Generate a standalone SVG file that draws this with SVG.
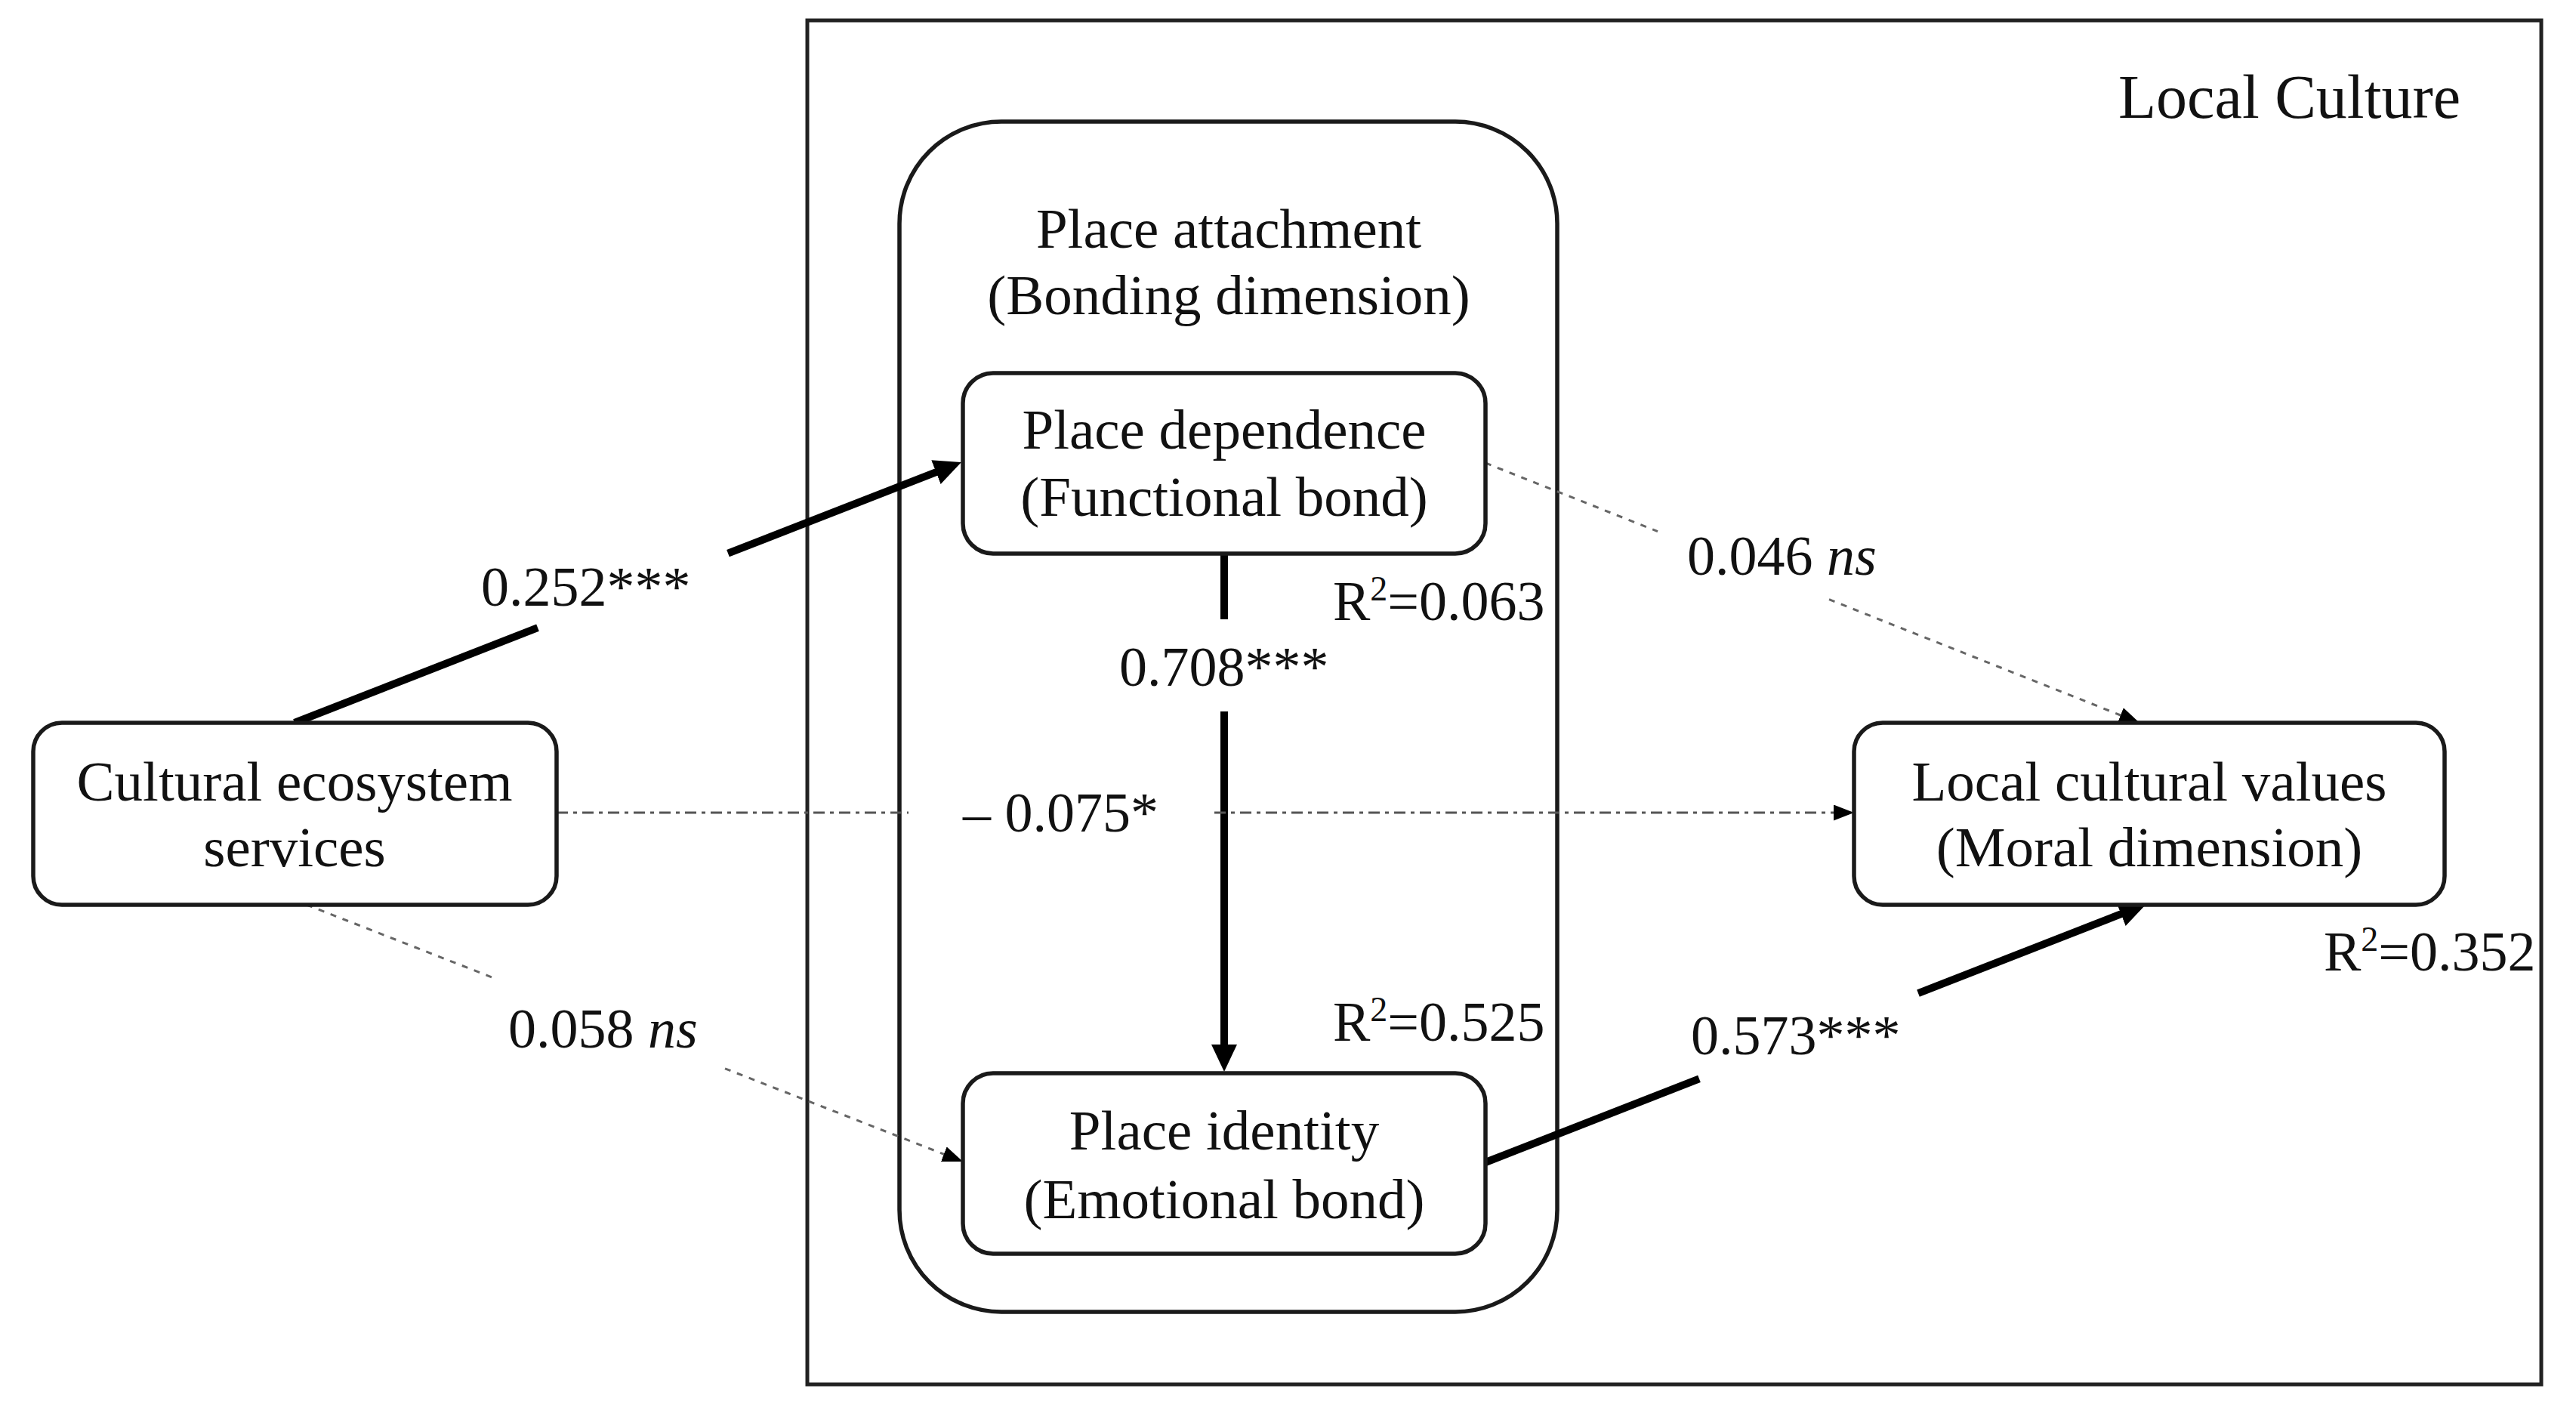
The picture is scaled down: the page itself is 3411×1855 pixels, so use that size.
<svg xmlns="http://www.w3.org/2000/svg" width="3411" height="1855" viewBox="0 0 3411 1855">
  <style>
    text { font-family: "Liberation Serif", "Times New Roman", serif; fill: #111; }
    .node { font-size: 75px; text-anchor: middle; }
    .lbl { font-size: 74px; }
    .title { font-size: 82px; }
    .box { fill: #fff; stroke: #1a1a1a; stroke-width: 5.5; }
    .frame { fill: none; stroke: #222; stroke-width: 5; }
    .thick { fill: none; stroke: #000; stroke-width: 10; }
    .dotted { fill: none; stroke: #666; stroke-width: 3; stroke-dasharray: 8 9; }
    .dashdot { fill: none; stroke: #555; stroke-width: 3; stroke-dasharray: 15 7 5 7; }
    .sup { font-size: 46px; }
  </style>
  <defs>
    <marker id="bigArrow" markerUnits="userSpaceOnUse" markerWidth="36" markerHeight="34" refX="18" refY="17" orient="auto" viewBox="0 0 36 34">
      <path d="M0,0 L36,17 L0,34 z" fill="#000"/>
    </marker>
    <marker id="smallArrow" markerUnits="userSpaceOnUse" markerWidth="27" markerHeight="21" refX="19" refY="10.5" orient="auto" viewBox="0 0 27 21">
      <path d="M0,0 L27,10.5 L0,21 z" fill="#000"/>
    </marker>
  </defs>
  <rect width="3411" height="1855" fill="#fff"/>

  <g id="local-culture">
    <rect class="frame" x="1069" y="27" width="2296" height="1806"/>
    <text class="title" x="2805" y="156">Local Culture</text>
  </g>

  <g id="place-attachment">
    <rect class="box" x="1191" y="161" width="871" height="1576" rx="135" ry="135" style="fill:none"/>
    <text class="node" x="1627" y="328">Place attachment</text>
    <text class="node" x="1627" y="416">(Bonding dimension)</text>
  </g>

  <g id="connectors">
    <line class="thick" x1="390" y1="957" x2="712" y2="831.2"/>
    <line class="thick" x1="964" y1="732.7" x2="1256.2" y2="618.6" marker-end="url(#bigArrow)"/>
    <line class="thick" x1="1621" y1="733" x2="1621" y2="820"/>
    <line class="thick" x1="1621" y1="942" x2="1621" y2="1401" marker-end="url(#bigArrow)"/>
    <line class="thick" x1="1967" y1="1539" x2="2250" y2="1428.3"/>
    <line class="thick" x1="2540" y1="1315.2" x2="2825.2" y2="1203.6" marker-end="url(#bigArrow)"/>
    <line class="dotted" x1="1967" y1="613" x2="2195" y2="703.6"/>
    <line class="dotted" x1="2422" y1="793.7" x2="2825.6" y2="954" marker-end="url(#smallArrow)"/>
    <line class="dotted" x1="406" y1="1198" x2="654" y2="1295"/>
    <line class="dotted" x1="960" y1="1414.8" x2="1267.5" y2="1535.1" marker-end="url(#smallArrow)"/>
    <line class="dashdot" x1="737" y1="1076" x2="1203" y2="1076"/>
    <line class="dashdot" x1="1608" y1="1076" x2="2447" y2="1076" marker-end="url(#smallArrow)"/>
  </g>

  <g id="cultural-ecosystem-services">
    <rect class="box" x="44" y="957" width="693" height="241" rx="38" ry="38"/>
    <text class="node" x="390" y="1060">Cultural ecosystem</text>
    <text class="node" x="390" y="1147">services</text>
  </g>

  <g id="place-dependence">
    <rect class="box" x="1275" y="494" width="692" height="239" rx="40" ry="40"/>
    <text class="node" x="1621" y="594">Place dependence</text>
    <text class="node" x="1621" y="683">(Functional bond)</text>
  </g>

  <g id="place-identity">
    <rect class="box" x="1275" y="1421" width="692" height="239" rx="40" ry="40"/>
    <text class="node" x="1621" y="1522">Place identity</text>
    <text class="node" x="1621" y="1613">(Emotional bond)</text>
  </g>

  <g id="local-cultural-values">
    <rect class="box" x="2455" y="957" width="782" height="241" rx="38" ry="38"/>
    <text class="node" x="2846" y="1060">Local cultural values</text>
    <text class="node" x="2846" y="1147">(Moral dimension)</text>
  </g>

  <g id="labels">
    <text class="lbl" x="637" y="802">0.252***</text>
    <text class="lbl" x="1482" y="908">0.708***</text>
    <text class="lbl" x="1275" y="1101">– 0.075*</text>
    <text class="lbl" x="673" y="1387">0.058 <tspan font-style="italic">ns</tspan></text>
    <text class="lbl" x="2234" y="761">0.046 <tspan font-style="italic">ns</tspan></text>
    <text class="lbl" x="2239" y="1396">0.573***</text>
    <text class="lbl" x="1765" y="821">R<tspan class="sup" dy="-26">2</tspan><tspan dy="26">=0.063</tspan></text>
    <text class="lbl" x="1765" y="1378">R<tspan class="sup" dy="-26">2</tspan><tspan dy="26">=0.525</tspan></text>
    <text class="lbl" x="3077" y="1285">R<tspan class="sup" dy="-26">2</tspan><tspan dy="26">=0.352</tspan></text>
  </g>
</svg>
